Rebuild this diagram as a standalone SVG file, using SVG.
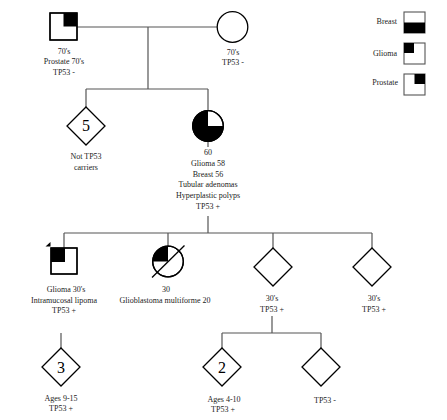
<svg xmlns="http://www.w3.org/2000/svg" width="447" height="420" viewBox="0 0 447 420">
<style>
.t{font-family:"Liberation Serif","Times New Roman",serif;font-size:8px;fill:#222;text-anchor:middle}
.lg{font-family:"Liberation Serif","Times New Roman",serif;font-size:8px;fill:#222;text-anchor:end}
.n{font-family:"Liberation Serif","Times New Roman",serif;font-size:16px;fill:#000;text-anchor:middle}
.s{fill:#fff;stroke:#000;stroke-width:1.3}
.f{fill:#000;stroke:none}
.c{fill:none;stroke:#555;stroke-width:1.2}
.lb{fill:#fff;stroke:#555;stroke-width:1.1}
</style>
<rect width="447" height="420" fill="#fff"/>
<g id="connectors">
<path class="c" d="M77,27H217M148,27V89M86,89H208M86,89V107M208,89V110.5"/>
<path class="c" d="M208,141V147M208,216V233M64,233H372M64,233V248M168,233V246.2M273,233V248M372,233V248"/>
<path class="c" d="M272,316V333M222,333H321M222,333V348M321,333V348M61,333V348"/>
</g>
<g id="father">
<rect class="s" x="50" y="13" width="27" height="27"/>
<rect class="f" x="63.5" y="13" width="13.5" height="13.5"/>
<rect x="50" y="13" width="27" height="27" fill="none" stroke="#000" stroke-width="1.3"/>
<text class="t" x="64" y="53.5">70's</text>
<text class="t" x="64" y="64">Prostate 70's</text>
<text class="t" x="64" y="74.5">TP53 -</text>
</g>
<g id="mother">
<circle class="s" cx="232.5" cy="27" r="15.3"/>
<text class="t" x="233" y="54.5">70's</text>
<text class="t" x="233" y="65.3">TP53 -</text>
</g>
<g id="sibs5">
<polygon class="s" points="86,107 105,126 86,145 67,126"/>
<text class="n" x="86" y="131">5</text>
<text class="t" x="86" y="159">Not TP53</text>
<text class="t" x="86" y="170">carriers</text>
</g>
<g id="daughter">
<circle class="s" cx="208" cy="126" r="15.3"/>
<path class="f" d="M208,126V110.7A15.3,15.3 0 1 0 223.3,126Z"/>
<circle cx="208" cy="126" r="15.3" fill="none" stroke="#000" stroke-width="1.3"/>
<text class="t" x="208" y="155">60</text>
<text class="t" x="208" y="165.8">Glioma 58</text>
<text class="t" x="208" y="176.6">Breast 56</text>
<text class="t" x="208" y="187.4">Tubular adenomas</text>
<text class="t" x="208" y="198.2">Hyperplastic polyps</text>
<text class="t" x="208" y="209">TP53 +</text>
</g>
<g id="proband">
<rect class="s" x="51" y="248" width="26" height="26"/>
<rect class="f" x="51" y="248" width="14" height="14"/>
<rect x="51" y="248" width="26" height="26" fill="none" stroke="#000" stroke-width="1.3"/>
<polygon class="f" points="50.5,242 45.5,246.5 50.5,246.5"/>
<text class="t" x="66" y="292">Glioma 30's</text>
<text class="t" x="64" y="302.5">Intramucosal lipoma</text>
<text class="t" x="64" y="313">TP53 +</text>
</g>
<g id="deceased">
<circle class="s" cx="168" cy="261.5" r="15.3"/>
<path class="f" d="M168,261.5H152.7A15.3,15.3 0 0 1 168,246.2Z"/>
<circle cx="168" cy="261.5" r="15.3" fill="none" stroke="#000" stroke-width="1.3"/>
<line x1="152" y1="277.5" x2="184.5" y2="245.5" stroke="#000" stroke-width="1.3"/>
<text class="t" x="166" y="292">30</text>
<text class="t" x="165" y="302.5">Glioblastoma multiforme 20</text>
</g>
<g id="sib30a">
<polygon class="s" points="273,248 292,267 273,286 254,267"/>
<text class="t" x="272" y="301.3">30's</text>
<text class="t" x="272" y="312">TP53 +</text>
</g>
<g id="sib30b">
<polygon class="s" points="372,248 391,267 372,286 353,267"/>
<text class="t" x="374" y="301.3">30's</text>
<text class="t" x="374" y="312">TP53 +</text>
</g>
<g id="sibs3">
<polygon class="s" points="61,348 80,367 61,386 42,367"/>
<text class="n" x="61" y="372.5">3</text>
<text class="t" x="61" y="400.5">Ages 9-15</text>
<text class="t" x="61" y="411">TP53 +</text>
</g>
<g id="sibs2">
<polygon class="s" points="222,348 241,367 222,386 203,367"/>
<text class="n" x="222" y="372.5">2</text>
<text class="t" x="224" y="401.5">Ages 4-10</text>
<text class="t" x="223" y="412">TP53 +</text>
</g>
<g id="child3">
<polygon class="s" points="321,348 340,367 321,386 302,367"/>
<text class="t" x="325" y="402.5">TP53 -</text>
</g>
<g id="legend">
<rect class="lb" x="404" y="12" width="21" height="21"/>
<rect class="f" x="404" y="22.5" width="21" height="10.5"/>
<text class="lg" x="397" y="24.3">Breast</text>
<rect class="lb" x="404" y="43" width="21" height="21"/>
<rect class="f" x="404" y="43" width="10" height="10"/>
<text class="lg" x="397" y="55.5">Glioma</text>
<rect class="lb" x="404" y="74" width="21" height="21"/>
<rect class="f" x="414.5" y="74" width="10.5" height="10"/>
<text class="lg" x="398" y="85">Prostate</text>
</g>
</svg>
